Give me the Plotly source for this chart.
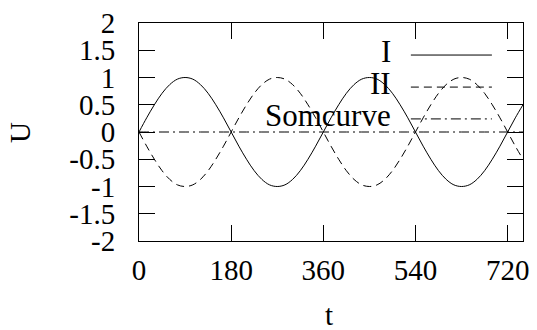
import plotly.graph_objects as go

t = [0, 15, 30, 45, 60, 75, 90, 105, 120, 135, 150, 165, 180, 195, 210, 225, 240, 255,
     270, 285, 300, 315, 330, 345, 360, 375, 390, 405, 420, 435, 450, 465, 480, 495,
     510, 525, 540, 555, 570, 585, 600, 615, 630, 645, 660, 675, 690, 705, 720, 735, 750]

curve_I = [0, 0.26, 0.5, 0.71, 0.87, 0.97, 1, 0.97, 0.87, 0.71, 0.5, 0.26, 0,
           -0.26, -0.5, -0.71, -0.87, -0.97, -1, -0.97, -0.87, -0.71, -0.5, -0.26,
           0, 0.26, 0.5, 0.71, 0.87, 0.97, 1, 0.97, 0.87, 0.71, 0.5, 0.26, 0,
           -0.26, -0.5, -0.71, -0.87, -0.97, -1, -0.97, -0.87, -0.71, -0.5, -0.26,
           0, 0.26, 0.5]

curve_II = [0, -0.26, -0.5, -0.71, -0.87, -0.97, -1, -0.97, -0.87, -0.71, -0.5, -0.26, 0,
            0.26, 0.5, 0.71, 0.87, 0.97, 1, 0.97, 0.87, 0.71, 0.5, 0.26,
            0, -0.26, -0.5, -0.71, -0.87, -0.97, -1, -0.97, -0.87, -0.71, -0.5, -0.26, 0,
            0.26, 0.5, 0.71, 0.87, 0.97, 1, 0.97, 0.87, 0.71, 0.5, 0.26,
            0, -0.26, -0.5]

curve_som = [0] * len(t)

series_names = ["I", "II", "Somcurve"]
x_ticks = [0, 180, 360, 540, 720]
y_ticks = [-2, -1.5, -1, -0.5, 0, 0.5, 1, 1.5, 2]
y_tick_text = ["-2", "-1.5", "-1", "-0.5", "0", "0.5", "1", "1.5", "2"]

FONT = "Liberation Serif, Times New Roman, DejaVu Serif, serif"
FS = 29
dashes = ["solid", "8px,5px", "10px,4px,2px,4px"]

fig = go.Figure()
for name, ys, d in zip(series_names, [curve_I, curve_II, curve_som], dashes):
    fig.add_trace(go.Scatter(x=t, y=ys, mode="lines", name=name,
                             line=dict(color="black", width=1, dash=d, shape="spline"),
                             showlegend=False, hoverinfo="skip"))

# gnuplot-style key: text on left, line sample on right
key_y = [0.853, 0.706, 0.560]
for name, d, ky in zip(series_names, dashes, key_y):
    fig.add_annotation(x=0.661, y=ky + 0.015, xref="paper", yref="paper", text=name,
                       showarrow=False, xanchor="right", yanchor="middle",
                       font=dict(family=FONT, size=31, color="black"))
    fig.add_shape(type="line", xref="paper", yref="paper", x0=0.708, x1=0.919,
                  y0=ky, y1=ky, line=dict(color="black", width=1, dash=d))

# axis titles
fig.add_annotation(x=0.495, y=-0.34, xref="paper", yref="paper", text="t",
                   showarrow=False, xanchor="center", yanchor="middle",
                   font=dict(family=FONT, size=FS, color="black"))
fig.add_annotation(x=-0.31, y=0.5, xref="paper", yref="paper", text="U",
                   showarrow=False, xanchor="center", yanchor="middle", textangle=-90,
                   font=dict(family=FONT, size=FS, color="black"))

fig.update_layout(
    width=537, height=330,
    margin=dict(l=139, r=14, t=23, b=89),
    paper_bgcolor="white", plot_bgcolor="white",
    font=dict(family=FONT, size=FS, color="black"),
    xaxis=dict(range=[0, 750], tickvals=x_ticks, ticks="inside", ticklen=16,
               tickcolor="black", showline=True, linecolor="black", linewidth=1,
               mirror="ticks", showgrid=False, zeroline=False, automargin=False,
               ticklabelstandoff=3, ticklabeloverflow="allow"),
    yaxis=dict(range=[-2, 2], tickvals=y_ticks, ticktext=y_tick_text, ticks="inside",
               ticklen=16, tickcolor="black", showline=True, linecolor="black",
               linewidth=1, mirror="ticks", showgrid=False, zeroline=False,
               automargin=False, ticklabelstandoff=17, ticklabeloverflow="allow"),
)

# remove the page's default 8px body margin so the figure sits at the window origin
fig.write_html("out.html", config={"displayModeBar": False},
               post_script="document.body.style.margin='0';document.body.style.overflow='hidden';")
